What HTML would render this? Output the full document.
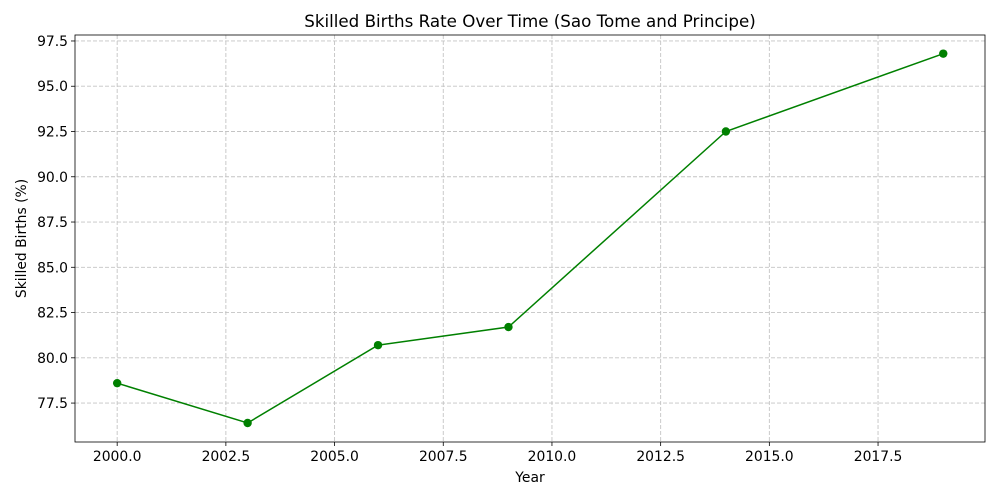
<!DOCTYPE html>
<html><head><meta charset="utf-8"><style>
body{margin:0;background:#fff;font-family:"DejaVu Sans","Liberation Sans",sans-serif}
svg{display:block}
</style></head><body>
<svg id="chart" width="1000" height="500" xmlns="http://www.w3.org/2000/svg" font-family="DejaVu Sans, Liberation Sans, sans-serif"></svg>
<script>
const years = [2000, 2003, 2006, 2009, 2014, 2019];
const values = [78.6, 76.4, 80.7, 81.7, 92.5, 96.8];
const xTicks = [2000, 2002.5, 2005, 2007.5, 2010, 2012.5, 2015, 2017.5];
const xTickLabels = ["2000.0","2002.5","2005.0","2007.5","2010.0","2012.5","2015.0","2017.5"];
const yTicks = [77.5, 80, 82.5, 85, 87.5, 90, 92.5, 95, 97.5];
const yTickLabels = ["77.5","80.0","82.5","85.0","87.5","90.0","92.5","95.0","97.5"];

const L=75,R=985,T=35,B=442;
const xMin=1999.03,xMax=2019.96,yMin=75.35,yMax=97.83;
const sx=v=>L+(v-xMin)/(xMax-xMin)*(R-L);
const sy=v=>B-(v-yMin)/(yMax-yMin)*(B-T);
const svg=document.getElementById('chart');
const NS='http://www.w3.org/2000/svg';
function mk(tag,attrs,parent){const e=document.createElementNS(NS,tag);for(const k in attrs)e.setAttribute(k,attrs[k]);(parent||svg).appendChild(e);return e;}

const grid=mk('g',{});


xTicks.forEach((t,i)=>{
  const x=sx(t);
  mk('line',{x1:x,x2:x,y1:T,y2:B,stroke:'#c4c4c4','stroke-dasharray':'4,2','stroke-width':0.9},grid);
  const tk=mk('line',{x1:x,x2:x,y1:B,y2:B+4,stroke:'#000','stroke-width':0.8});
  
  
  const tx=mk('text',{x:x,y:B+19,'text-anchor':'middle','font-size':13.9,fill:'#000'});
  tx.textContent=xTickLabels[i];
  
  
});
yTicks.forEach((t,i)=>{
  const y=sy(t);
  mk('line',{x1:L,x2:R,y1:y,y2:y,stroke:'#c4c4c4','stroke-dasharray':'4,2','stroke-width':0.9},grid);
  const tk=mk('line',{x1:L-4,x2:L,y1:y,y2:y,stroke:'#000','stroke-width':0.8});
  
  
  const tx=mk('text',{x:L-7,y:y+5,'text-anchor':'end','font-size':13.9,fill:'#000'});
  tx.textContent=yTickLabels[i];
  
  
});
const frame=mk('rect',{x:L,y:T,width:R-L,height:B-T,fill:'none',stroke:'#000','stroke-width':0.8});



const pts=years.map((y,i)=>sx(y)+','+sy(values[i])).join(' ');
const line=mk('polyline',{points:pts,fill:'none',stroke:'#008000','stroke-width':1.5});


years.forEach((y,i)=>{
  const c=mk('circle',{cx:sx(y),cy:sy(values[i]),r:4.2,fill:'#008000'});
  
  
});

const title=mk('text',{x:(L+R)/2,y:27,'text-anchor':'middle','font-size':16.7,fill:'#000'});
title.textContent='Skilled Births Rate Over Time (Sao Tome and Principe)';


const xl=mk('text',{x:(L+R)/2,y:482,'text-anchor':'middle','font-size':13.9,fill:'#000'});
xl.textContent='Year';


const yl=mk('text',{x:0,y:0,'text-anchor':'middle','font-size':13.9,fill:'#000',transform:`translate(26,${(T+B)/2}) rotate(-90)`});
yl.textContent='Skilled Births (%)';


</script>
</body></html>
